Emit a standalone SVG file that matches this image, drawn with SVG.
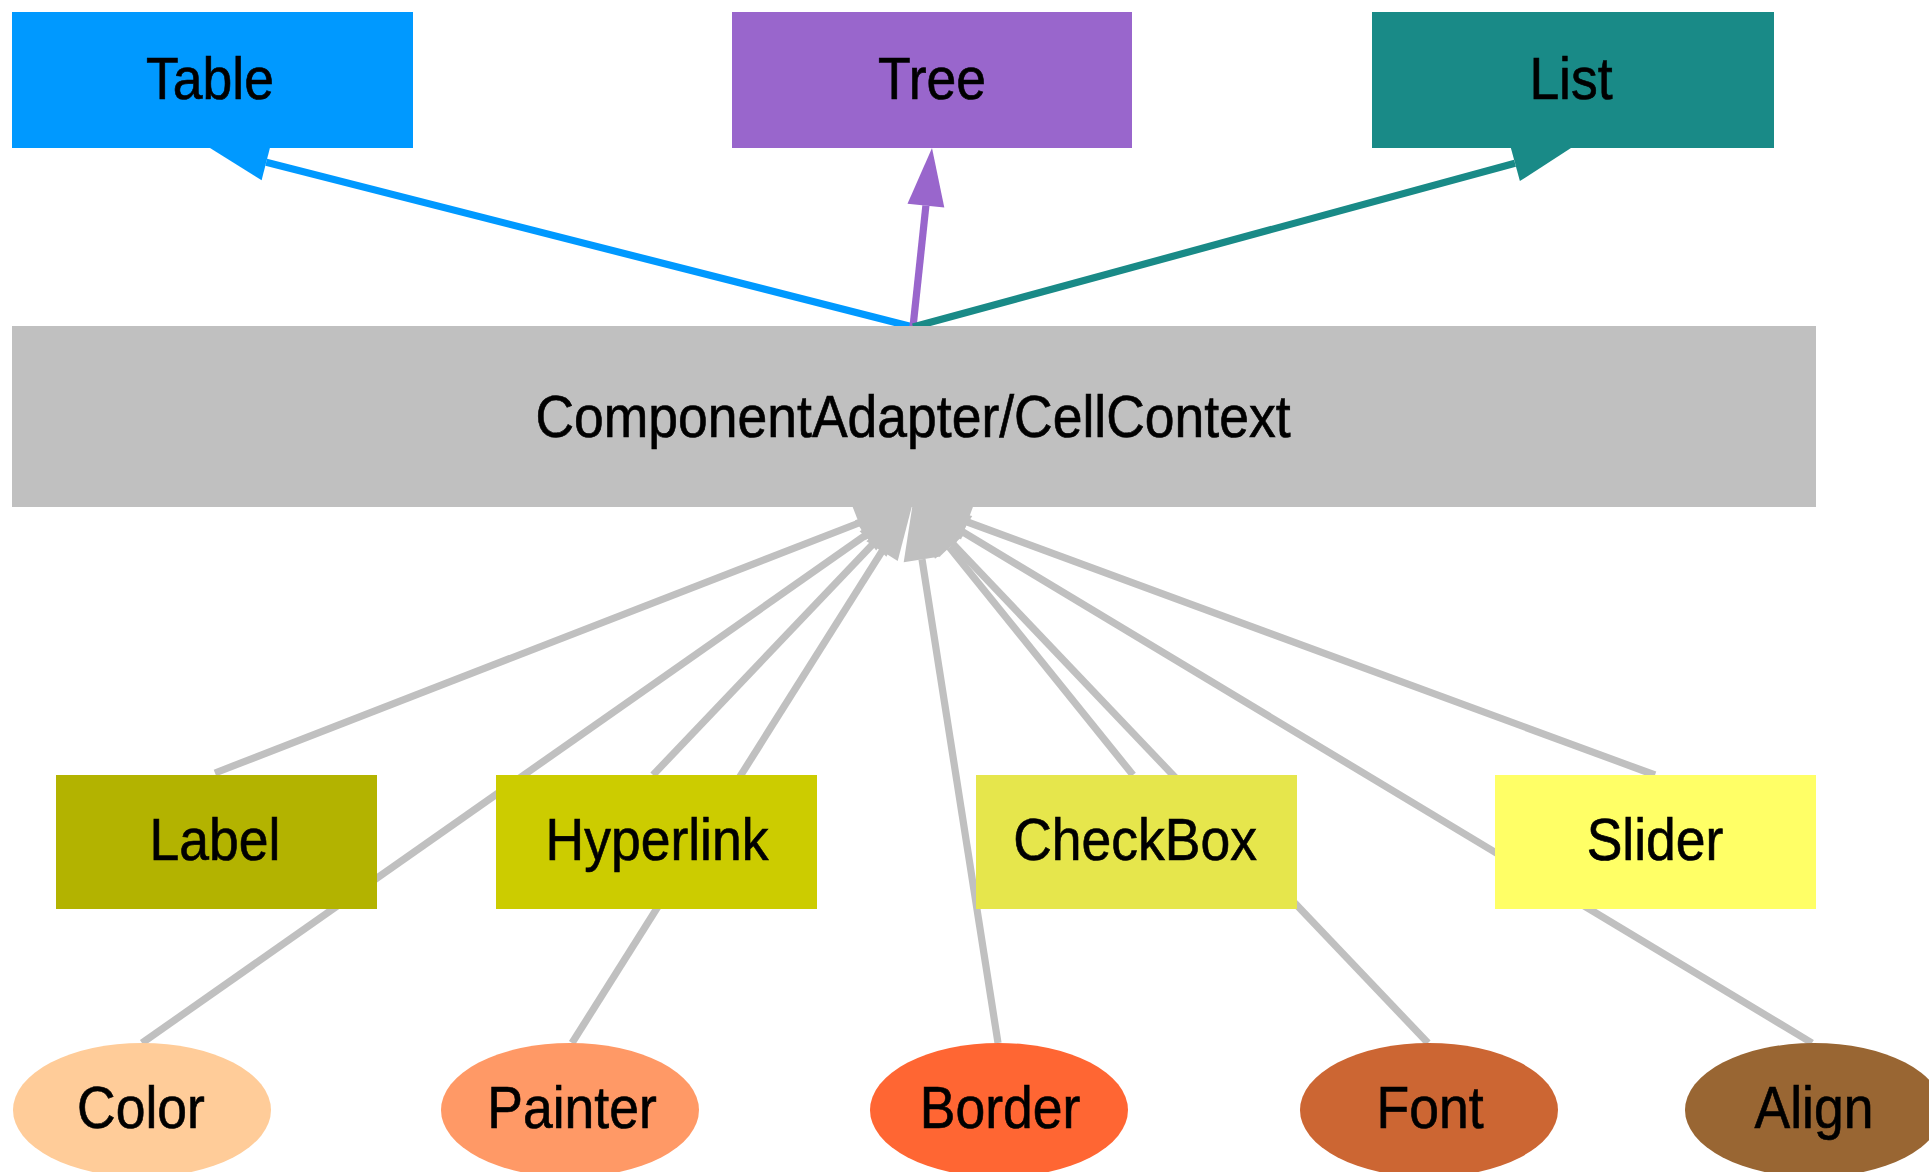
<svg xmlns="http://www.w3.org/2000/svg" width="1929" height="1172" viewBox="0 0 1929 1172">
<style>
.lbl{font-family:"Liberation Sans",Arial,sans-serif;font-size:53.5px;fill:#000;stroke:#000;stroke-width:0.6;text-anchor:middle}
.e{fill:none;stroke-width:7.2;stroke-linecap:butt}
.g{stroke:#c0c0c0}
.ga{fill:#c0c0c0}
</style>
<rect width="1929" height="1172" fill="#ffffff"/>
<g id="connectors">
  <line class="e" stroke="#0099ff" x1="913" y1="327" x2="266.2" y2="162.3"/>
  <polygon fill="#0099ff" points="210,148 270.8,144.4 261.6,180.2"/>
  <line class="e" stroke="#9966cc" stroke-width="6" x1="913" y1="327" x2="925.9" y2="205.7"/>
  <polygon fill="#9966cc" points="932,148 944.3,207.6 907.5,203.7"/>
  <line class="e" stroke="#198a87" x1="913" y1="327" x2="1515" y2="163.2"/>
  <polygon fill="#198a87" points="1571,148 1519.9,181.1 1510.2,145.4"/>

  <line class="e g" x1="215" y1="773" x2="858.9" y2="523"/>
  <polygon class="ga" points="913,502 865.6,540.2 852.2,505.7"/>
  <line class="e g" x1="142" y1="1043" x2="865.5" y2="535.3"/>
  <polygon class="ga" points="913,502 876.1,550.4 854.9,520.2"/>
  <line class="e g" x1="653" y1="775" x2="873" y2="544"/>
  <polygon class="ga" points="913,502 886.4,556.8 859.6,531.2"/>
  <line class="e g" x1="572" y1="1043" x2="882.1" y2="551.1"/>
  <polygon class="ga" points="913,502 897.7,560.9 866.4,541.2"/>
  <line class="e g" x1="998" y1="1043" x2="922" y2="559.3"/>
  <polygon class="ga" points="913,502 940.3,556.4 903.7,562.2"/>
  <line class="e g" x1="1133" y1="775" x2="949.4" y2="547.2"/>
  <polygon class="ga" points="913,502 963.8,535.6 935,558.8"/>
  <line class="e g" x1="1428" y1="1043" x2="953" y2="544"/>
  <polygon class="ga" points="913,502 966.4,531.2 939.6,556.8"/>
  <line class="e g" x1="1655" y1="775" x2="967.4" y2="522"/>
  <polygon class="ga" points="913,502 973.8,504.6 961,539.4"/>
  <line class="e g" x1="1812" y1="1043" x2="962.7" y2="531.9"/>
  <polygon class="ga" points="913,502 972.2,516 953.2,547.8"/>
</g>
<g id="node-table"><rect x="12" y="12" width="401" height="136" fill="#0099ff"/><text class="lbl" transform="translate(210,99) scale(1,1.1)">Table</text></g>
<g id="node-tree"><rect x="732" y="12" width="400" height="136" fill="#9966cc"/><text class="lbl" transform="translate(932,99) scale(1,1.1)">Tree</text></g>
<g id="node-list"><rect x="1372" y="12" width="402" height="136" fill="#198a87"/><text class="lbl" transform="translate(1571,99) scale(1,1.1)">List</text></g>
<g id="node-central"><rect x="12" y="326" width="1804" height="181" fill="#c0c0c0"/><text class="lbl" transform="translate(913,437) scale(1,1.1)">ComponentAdapter/CellContext</text></g>
<g id="node-label"><rect x="56" y="775" width="321" height="134" fill="#b3b300"/><text class="lbl" transform="translate(215,860) scale(1,1.1)">Label</text></g>
<g id="node-hyperlink"><rect x="496" y="775" width="321" height="134" fill="#cccc00"/><text class="lbl" transform="translate(657,860) scale(1,1.1)">Hyperlink</text></g>
<g id="node-checkbox"><rect x="976" y="775" width="321" height="134" fill="#e6e64c"/><text class="lbl" transform="translate(1135,860) scale(1,1.1)">CheckBox</text></g>
<g id="node-slider"><rect x="1495" y="775" width="321" height="134" fill="#ffff66"/><text class="lbl" transform="translate(1655,860) scale(1,1.1)">Slider</text></g>
<g id="node-color"><ellipse cx="142" cy="1110" rx="129" ry="67" fill="#ffcc99"/><text class="lbl" transform="translate(141,1128) scale(1,1.1)">Color</text></g>
<g id="node-painter"><ellipse cx="570" cy="1110" rx="129" ry="67" fill="#ff9966"/><text class="lbl" transform="translate(572,1128) scale(1,1.1)">Painter</text></g>
<g id="node-border"><ellipse cx="999" cy="1110" rx="129" ry="67" fill="#ff6633"/><text class="lbl" transform="translate(1000,1128) scale(1,1.1)">Border</text></g>
<g id="node-font"><ellipse cx="1429" cy="1110" rx="129" ry="67" fill="#cc6633"/><text class="lbl" transform="translate(1430,1128) scale(1,1.1)">Font</text></g>
<g id="node-align"><ellipse cx="1814" cy="1110" rx="129" ry="67" fill="#996633"/><text class="lbl" transform="translate(1814,1128) scale(1,1.1)">Align</text></g>
</svg>
